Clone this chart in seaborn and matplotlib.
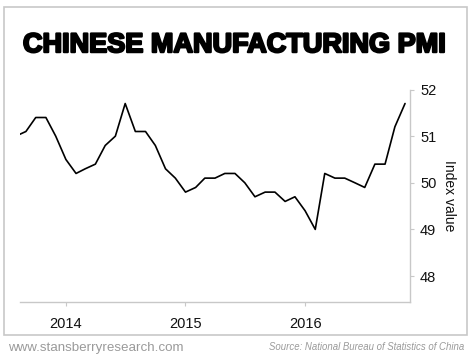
import pandas as pd
import numpy as np
import seaborn as sns
import matplotlib.pyplot as plt
import matplotlib.patheffects as pe
from matplotlib.patches import Rectangle

# monthly official PMI, Aug 2013 - Nov 2016
months = pd.date_range("2013-08-01", "2016-11-01", freq="MS")
pmi = [51.0, 51.1, 51.4, 51.4, 51.0,
       50.5, 50.2, 50.3, 50.4, 50.8, 51.0, 51.7, 51.1, 51.1, 50.8, 50.3, 50.1,
       49.8, 49.9, 50.1, 50.1, 50.2, 50.2, 50.0, 49.7, 49.8, 49.8, 49.6, 49.7,
       49.4, 49.0, 50.2, 50.1, 50.1, 50.0, 49.9, 50.4, 50.4, 51.2, 51.7]
years = ["2014", "2015", "2016"]
y_ticks = [48, 49, 50, 51, 52]

df = pd.DataFrame({"month": months, "pmi": pmi})

sns.set_style("white")
plt.rcParams['font.family'] = ['Liberation Sans', 'DejaVu Sans']

fig = plt.figure(figsize=(4.73, 3.61), dpi=100)
ax = fig.add_axes([0.0423, 0.1643, 0.8251, 0.5877])

sns.lineplot(data=df, x="month", y="pmi", color="black", linewidth=1.2, ax=ax)

ax.set_xlim(pd.Timestamp("2013-08-14"), pd.Timestamp("2016-11-17"))
ax.set_ylim(47.45, 52)

ax.set_xticks([pd.Timestamp(y + "-01-01") for y in years])
ax.set_xticklabels(years)
ax.set_yticks(y_ticks)

ax.yaxis.tick_right()
ax.yaxis.set_label_position("right")
ax.set_xlabel("")
ax.set_ylabel("Index value", rotation=270, labelpad=14, fontsize=10, color="#111111")

for s in ["top", "left"]:
    ax.spines[s].set_visible(False)
for s in ["bottom", "right"]:
    ax.spines[s].set_color("#c8c8c8")
    ax.spines[s].set_linewidth(1)

ax.tick_params(axis="both", length=3, width=0.8, color="#c8c8c8",
               labelsize=10.5, labelcolor="#111111")
ax.tick_params(axis="x", pad=8)
ax.tick_params(axis="y", pad=4)
ax.tick_params(axis="x", bottom=True)
ax.tick_params(axis="y", right=True)

# outer frame
fig.patches.append(Rectangle((0.0085, 0.072), 0.9788, 0.9094, transform=fig.transFigure,
                             fill=False, edgecolor="#c8c8c8", linewidth=1.2))

fig.text(0.497, 0.875, "CHINESE MANUFACTURING PMI", ha="center", va="center",
         fontsize=19.5, fontweight="bold", color="black",
         path_effects=[pe.withStroke(linewidth=1.6, foreground="black")])

fig.text(0.017, 0.036, "www.stansberryresearch.com", ha="left", va="center",
         fontsize=9.6, color="#9a9a9a")
fig.text(0.981, 0.038, "Source: National Bureau of Statistics of China", ha="right",
         va="center", fontsize=6.9, style="italic", color="#9a9a9a")

fig.savefig("out.png", dpi=100)
